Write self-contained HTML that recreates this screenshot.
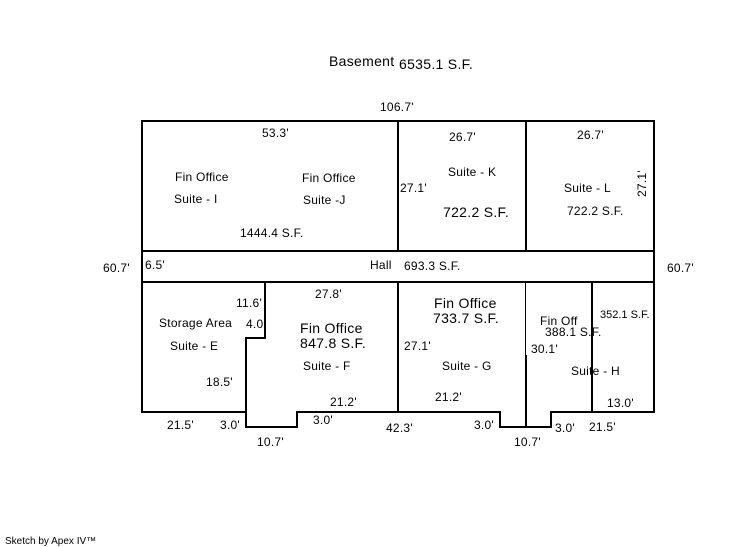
<!DOCTYPE html>
<html><head><meta charset="utf-8">
<style>
html,body{margin:0;padding:0;background:#fff}
svg{display:block}
text{font-family:"Liberation Sans",sans-serif;font-size:12px;fill:#000;letter-spacing:.25px}
.b{font-size:14px;letter-spacing:.3px}
.s{font-size:10px;letter-spacing:0}
.m{font-size:11px;letter-spacing:0}
</style></head>
<body>
<svg width="746" height="547" viewBox="0 0 746 547" xmlns="http://www.w3.org/2000/svg">
<g fill="none" stroke="#000" stroke-width="2">
<path d="M142 121H654V412H551V427H500V412H297V427H246V412H142Z"/>
<path d="M142 251H654"/>
<path d="M142 282H654"/>
<path d="M398 121V251"/>
<path d="M526 121V251"/>
<path d="M398 282V412"/>
<path d="M265 282V338H246V412"/>
<path d="M592 282V412"/>
<path d="M526 355V427"/>
</g>
<path d="M525.5 282V355" stroke="#000" stroke-width="1" fill="none"/>

<text class="b" x="329" y="66">Basement</text>
<text class="b" x="399" y="69">6535.1 S.F.</text>
<text x="380" y="111">106.7'</text>
<text x="262" y="137">53.3'</text>
<text x="449" y="141">26.7'</text>
<text x="577" y="139">26.7'</text>
<text x="175" y="181">Fin Office</text>
<text x="174" y="203">Suite - I</text>
<text x="302" y="182">Fin Office</text>
<text x="303" y="204">Suite -J</text>
<text x="240" y="237">1444.4 S.F.</text>
<text x="400" y="192">27.1'</text>
<text x="448" y="176">Suite - K</text>
<text class="b" x="443" y="217">722.2 S.F.</text>
<text x="564" y="192">Suite - L</text>
<text x="567" y="215">722.2 S.F.</text>
<text transform="translate(646,197) rotate(-90)">27.1'</text>

<text x="103" y="272">60.7'</text>
<text x="145" y="269">6.5'</text>
<text x="370" y="269">Hall</text>
<text x="404" y="270">693.3 S.F.</text>
<text x="667" y="272">60.7'</text>

<text x="236" y="307">11.6'</text>
<text x="159" y="327">Storage Area</text>
<text x="246" y="328">4.0</text>
<text x="170" y="350">Suite - E</text>
<text x="206" y="386">18.5'</text>
<text x="315" y="298">27.8'</text>
<text class="b" x="300" y="333">Fin Office</text>
<text class="b" x="300" y="348">847.8 S.F.</text>
<text x="303" y="370">Suite - F</text>
<text x="330" y="406">21.2'</text>
<text x="167" y="429">21.5'</text>
<text x="220" y="429">3.0'</text>
<text x="257" y="446">10.7'</text>
<text x="313" y="424">3.0'</text>
<text x="386" y="432">42.3'</text>

<text class="b" x="434" y="308">Fin Office</text>
<text class="b" x="433" y="323">733.7 S.F.</text>
<text x="404" y="350">27.1'</text>
<text x="442" y="370">Suite - G</text>
<text x="435" y="401">21.2'</text>
<text x="474" y="429">3.0'</text>
<text x="514" y="446">10.7'</text>
<text x="540" y="325">Fin Off</text>
<text x="545" y="336">388.1 S.F.</text>
<text x="531" y="353">30.1'</text>
<text x="571" y="375">Suite - H</text>
<text class="m" x="600" y="318">352.1 S.F.</text>
<text x="607" y="407">13.0'</text>
<text x="555" y="432">3.0'</text>
<text x="589" y="431">21.5'</text>

<text class="s" x="5" y="544">Sketch by Apex IV™</text>
</svg>
</body></html>
